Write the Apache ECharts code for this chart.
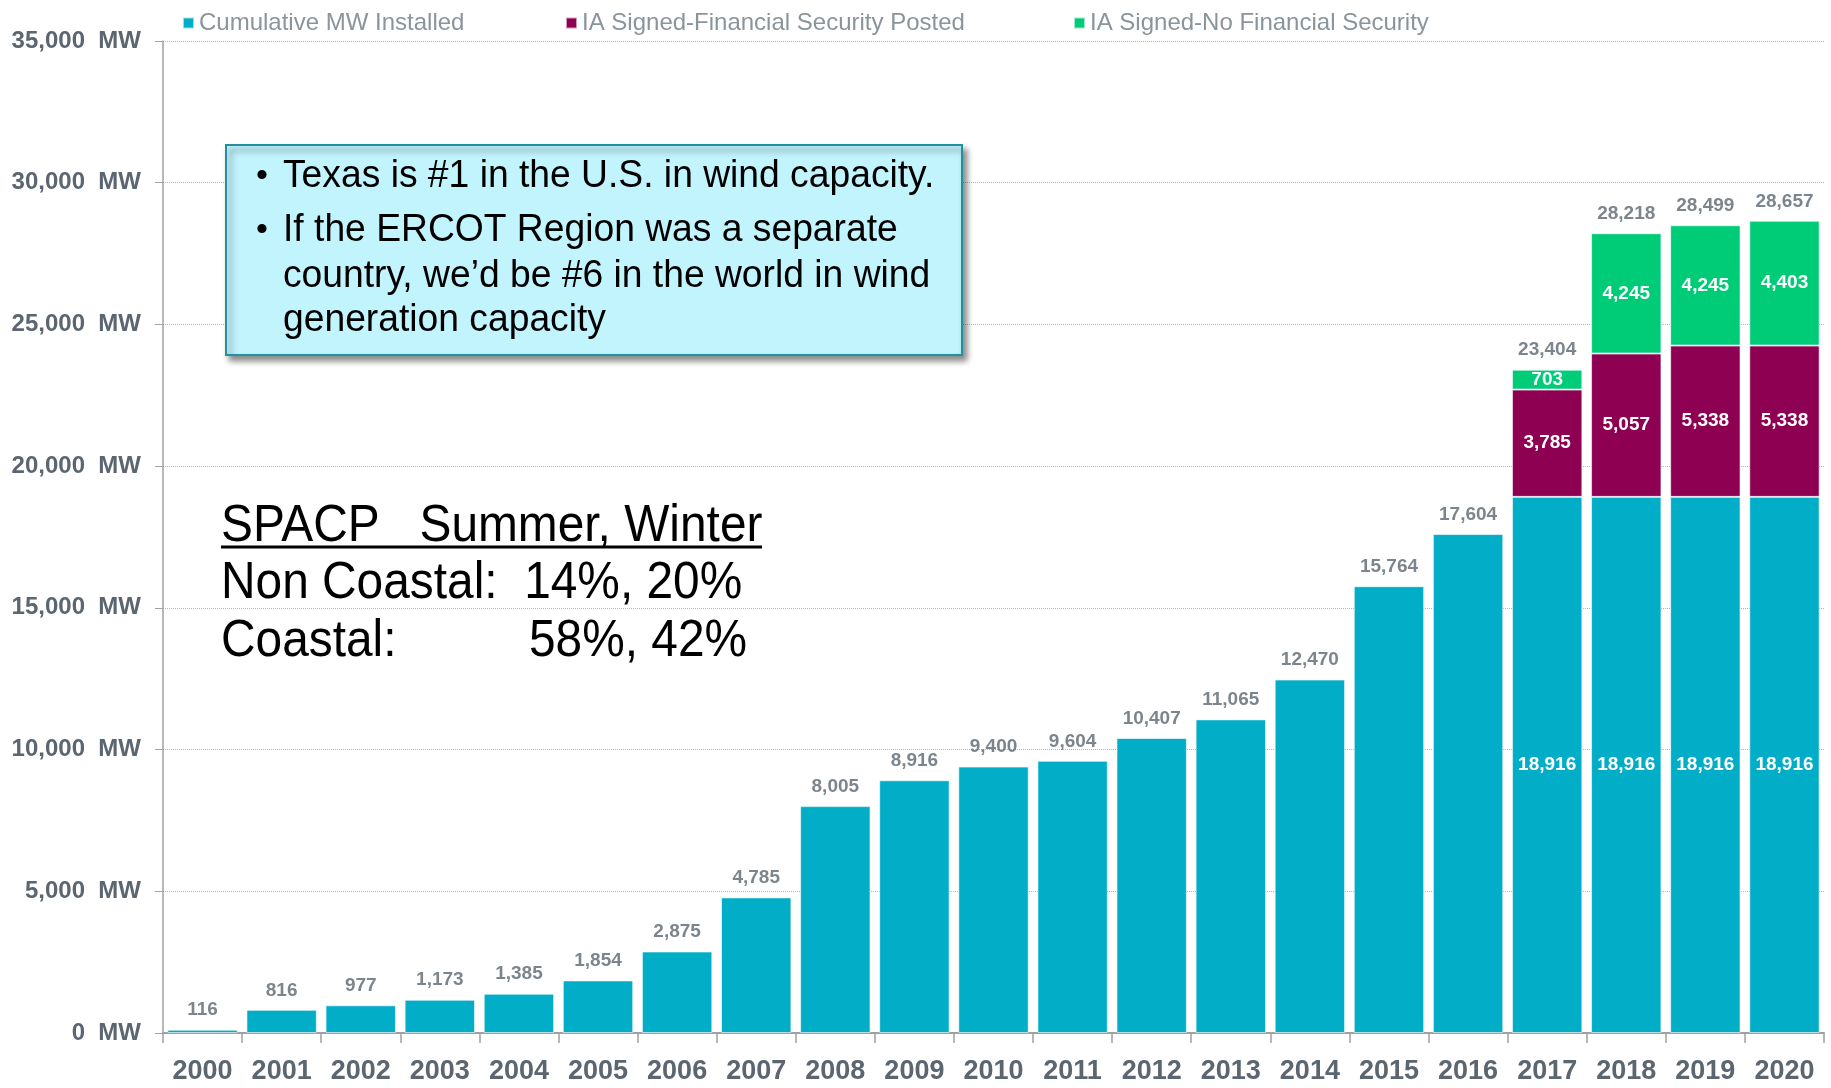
<!DOCTYPE html>
<html>
<head>
<meta charset="utf-8">
<style>
  html, body { margin: 0; padding: 0; background: #fff; }
  #chart { width: 1831px; height: 1088px; }
</style>
<script src="https://cdn.jsdelivr.net/npm/echarts@6/dist/echarts.min.js"></script>
</head>
<body>
<div id="chart"></div>
<script>
const years = ['2000','2001','2002','2003','2004','2005','2006','2007','2008','2009','2010',
  '2011','2012','2013','2014','2015','2016','2017','2018','2019','2020']
const installed = [116, 816, 977, 1173, 1385, 1854, 2875, 4785, 8005, 8916, 9400,
  9604, 10407, 11065, 12470, 15764, 17604, 18916, 18916, 18916, 18916]
const financial = [null, null, null, null, null, null, null, null, null, null, null,
  null, null, null, null, null, null, 3785, 5057, 5338, 5338]
const noFinancial = [null, null, null, null, null, null, null, null, null, null, null,
  null, null, null, null, null, null, 703, 4245, 4245, 4403]
const yTicks = [0, 5000, 10000, 15000, 20000, 25000, 30000, 35000]

const totals = installed.map((v, i) => v + (financial[i] || 0) + (noFinancial[i] || 0))
const fmt = v => v.toLocaleString('en-US')
const sans = '"Liberation Sans", Arial, sans-serif'
const grey = '#5b6670'

const chart = echarts.init(document.getElementById('chart'))

const insideLabel = { show: true, position: 'inside', color: '#fff', fontFamily: sans,
  fontWeight: 'bold', fontSize: 19, formatter: p => fmt(p.value) }

const legendItem = (name, left) => ({
  data: [name], left, top: 6, itemWidth: 11, itemHeight: 11, itemGap: 5,
  icon: 'rect', textStyle: { color: '#8a949b', fontSize: 24, fontFamily: sans }
})

// narrow-looking text: regular sans squeezed horizontally
const note = (text, x, y, size, sx) => ({
  type: 'text', x, y, scaleX: sx, z: 101,
  style: { text, x: 0, y: 0, fill: '#000', font: size + 'px ' + sans,
    verticalAlign: 'middle', align: 'left' }
})

chart.setOption({
  animation: false,
  backgroundColor: '#fff',
  legend: [
    legendItem('Cumulative MW Installed', 177),
    legendItem('IA Signed-Financial Security Posted', 560),
    legendItem('IA Signed-No Financial Security', 1068)
  ],
  grid: { left: 163, right: 7, top: 41, bottom: 55 },
  xAxis: {
    type: 'category', data: years,
    axisLine: { lineStyle: { color: '#a0a0a0', width: 2 } },
    axisTick: { show: true, length: 10, lineStyle: { color: '#a0a0a0', width: 1.5 } },
    axisLabel: { interval: 0, color: grey, fontFamily: sans, fontWeight: 'bold', fontSize: 27, margin: 25 }
  },
  yAxis: {
    type: 'value', min: 0, max: 35000, interval: 5000,
    axisLine: { show: true, lineStyle: { color: '#a0a0a0', width: 1.5 } },
    axisTick: { show: true, length: 8, lineStyle: { color: '#a0a0a0' } },
    axisLabel: { color: grey, fontFamily: sans, fontWeight: 'bold',
      fontSize: 24, margin: 22, formatter: v => yTicks.includes(v) ? fmt(v) + '  MW' : '' },
    splitLine: { lineStyle: { color: '#b4b4b4', type: 'dotted' } }
  },
  series: [
    {
      name: 'Cumulative MW Installed', type: 'bar', stack: 'mw', barCategoryGap: '11%',
      itemStyle: { color: '#01adc7', borderColor: 'rgba(255,255,255,0.6)', borderWidth: 1 },
      data: installed.map((v, i) => ({
        value: v,
        label: financial[i] != null ? insideLabel : { show: false }
      }))
    },
    {
      name: 'IA Signed-Financial Security Posted', type: 'bar', stack: 'mw',
      itemStyle: { color: '#8e0052', borderColor: 'rgba(255,255,255,0.6)', borderWidth: 1 },
      label: insideLabel,
      data: financial
    },
    {
      name: 'IA Signed-No Financial Security', type: 'bar', stack: 'mw',
      itemStyle: { color: '#00cc78', borderColor: 'rgba(255,255,255,0.6)', borderWidth: 1 },
      label: insideLabel,
      data: noFinancial
    },
    {
      name: 'total', type: 'scatter', symbolSize: 0, silent: true,
      itemStyle: { color: 'transparent' },
      label: { show: true, position: 'top', distance: 10, color: grey, fontFamily: sans,
        fontWeight: 'bold', fontSize: 19, formatter: p => fmt(p.value) },
      data: totals
    }
  ],
  graphic: [
    {
      type: 'rect', left: 225, top: 144, z: 100,
      shape: { width: 736, height: 210 },
      style: { fill: '#c1f4fd', stroke: '#23909e', lineWidth: 2,
        shadowBlur: 6, shadowOffsetX: 4, shadowOffsetY: 5, shadowColor: 'rgba(0,0,0,0.45)' }
    },
    note('•', 256, 177, 34, 1),
    note('Texas is #1 in the U.S. in wind capacity.', 283, 177, 38, 0.98),
    note('•', 256, 231, 34, 1),
    note('If the ERCOT Region was a separate', 283, 231, 38, 0.98),
    note('country, we\u2019d be #6 in the world in wind', 283, 277, 38, 0.98),
    note('generation capacity', 283, 321, 38, 0.98),
    note('SPACP   Summer, Winter', 221, 527, 52, 0.92),
    {
      type: 'line', z: 101,
      shape: { x1: 221, y1: 547, x2: 762, y2: 547 },
      style: { stroke: '#000', lineWidth: 3 }
    },
    note('Non Coastal:  14%, 20%', 221, 584, 52, 0.92),
    note('Coastal:', 221, 642, 52, 0.92),
    note('58%, 42%', 529, 642, 52, 0.92)
  ]
})
</script>
</body>
</html>
